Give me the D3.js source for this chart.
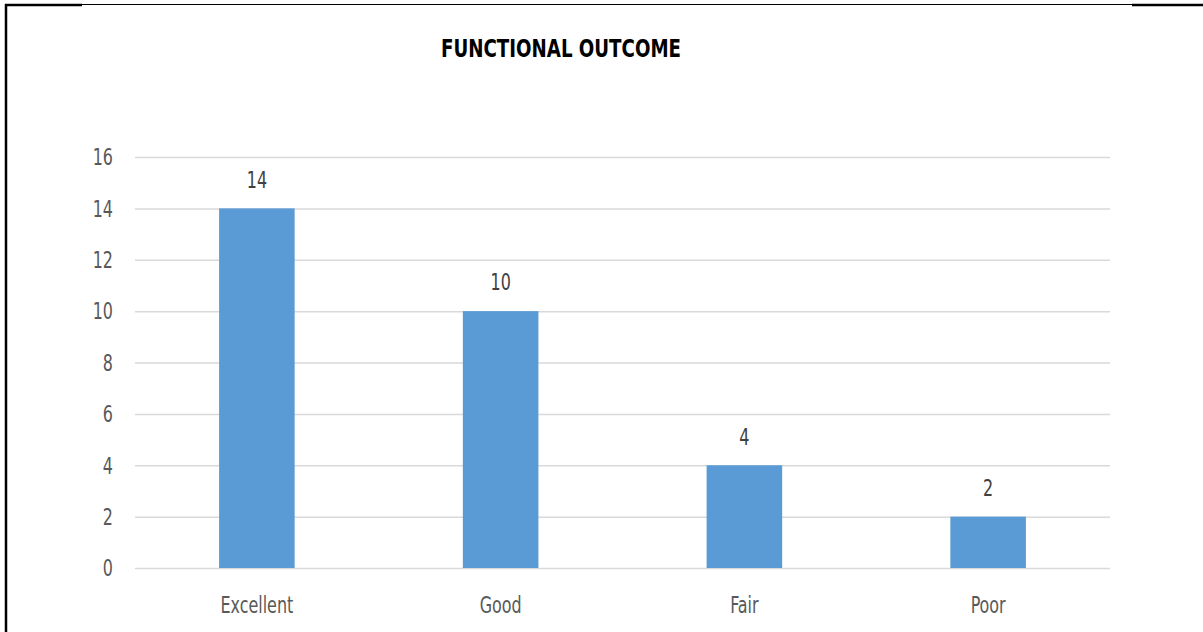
<!DOCTYPE html>
<html>
<head>
<meta charset="utf-8">
<script src="https://cdn.jsdelivr.net/npm/d3@7"></script>
<style>
  html, body { margin: 0; padding: 0; background: #fff; }
  svg { display: block; }
</style>
</head>
<body>
<svg id="chart" width="1203" height="632"></svg>
<script>
// Functional outcome counts per grade
const categories = ["Excellent", "Good", "Fair", "Poor"];
const values = [14, 10, 4, 2];
const yTicks = [0, 2, 4, 6, 8, 10, 12, 14, 16];
const title = "FUNCTIONAL OUTCOME";

const svg = d3.select("#chart");
const font = "'DejaVu Sans Condensed', 'DejaVu Sans', sans-serif";
const labelSize = 23;
const squeeze = 0.77;

// Page frame
svg.append("line").attr("x1", 5).attr("x2", 82).attr("y1", 5).attr("y2", 5)
  .attr("stroke", "#000").attr("stroke-width", 2.5);
svg.append("line").attr("x1", 82).attr("x2", 1132).attr("y1", 4.5).attr("y2", 4.5)
  .attr("stroke", "#000").attr("stroke-width", 1);
svg.append("line").attr("x1", 1132).attr("x2", 1203).attr("y1", 5).attr("y2", 5)
  .attr("stroke", "#000").attr("stroke-width", 2.5);
svg.append("line").attr("x1", 6).attr("x2", 6).attr("y1", 4).attr("y2", 632)
  .attr("stroke", "#000").attr("stroke-width", 2.5);

const x = d3.scaleBand().domain(categories).range([135, 1110]).paddingInner(0.69).paddingOuter(0.345);
const y = d3.scaleLinear().domain([0, 16]).range([568, 157]);

// Narrow text helper: positions a label and compresses it horizontally
function narrowText(g, px, py, anchor, fill) {
  return g.append("text")
    .attr("transform", `translate(${px},${py}) scale(${squeeze},1)`)
    .attr("dy", "0.36em")
    .attr("text-anchor", anchor)
    .attr("font-family", font).attr("font-size", labelSize)
    .attr("fill", fill);
}

// Gridlines
svg.append("g").selectAll("line").data(yTicks).join("line")
  .attr("x1", 135).attr("x2", 1110)
  .attr("y1", d => y(d) + 0.5).attr("y2", d => y(d) + 0.5)
  .attr("stroke", "#d9d9d9").attr("stroke-width", 1.5);

// Y axis labels
const yAxisG = svg.append("g");
yTicks.forEach(t => narrowText(yAxisG, 113, y(t), "end", "#595959").text(t));

// X axis labels
const xAxisG = svg.append("g");
categories.forEach(c => narrowText(xAxisG, x(c) + x.bandwidth() / 2, y(0) + 37, "middle", "#595959").text(c));

// Bars
svg.append("g").selectAll("rect").data(values).join("rect")
  .attr("x", (d, i) => x(categories[i]))
  .attr("width", x.bandwidth())
  .attr("y", d => y(d))
  .attr("height", d => y(0) - y(d))
  .attr("fill", "#5b9bd5");

// Value labels
const valG = svg.append("g");
values.forEach((v, i) => narrowText(valG, x(categories[i]) + x.bandwidth() / 2, y(v) - 29, "middle", "#404040").text(v));

// Title
svg.append("text").attr("x", 561).attr("y", 48).attr("dy", "0.36em")
  .attr("text-anchor", "middle")
  .attr("font-family", font).attr("font-weight", "bold").attr("font-size", 24)
  .attr("fill", "#000")
  .attr("textLength", 240).attr("lengthAdjust", "spacingAndGlyphs")
  .text(title);
</script>
</body>
</html>
